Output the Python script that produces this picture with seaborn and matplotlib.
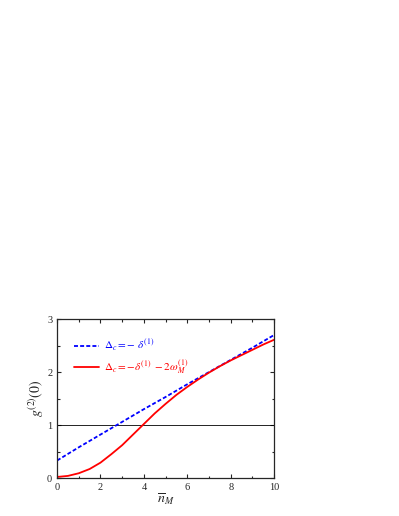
import numpy as np
import pandas as pd
import matplotlib
matplotlib.use("Agg")
import matplotlib.pyplot as plt
import seaborn as sns

# dados
n_blue = [0, 1, 2, 3, 4, 5, 6, 7, 8, 9, 10]
g2_blue = [0.33, 0.58, 0.82, 1.06, 1.30, 1.53, 1.77, 2.00, 2.23, 2.46, 2.70]

n_red = [0, 0.5, 1.0, 1.5, 2.0, 2.5, 3.0, 3.5, 4.0, 4.5, 5.0, 5.5, 6.0, 6.5,
         7.0, 7.5, 8.0, 8.5, 9.0, 9.5, 10.0]
g2_red = [0.02, 0.04, 0.09, 0.17, 0.29, 0.45, 0.62, 0.82, 1.02, 1.22, 1.40,
          1.57, 1.72, 1.86, 1.99, 2.11, 2.22, 2.32, 2.42, 2.52, 2.61]

lab_blue = r"$\Delta_c = -\ \delta^{(1)}$"
lab_red = r"$\Delta_c = -\delta^{(1)}\ -2\omega_M^{(1)}$"

sns.set_style("ticks")
plt.rcParams["font.family"] = ["Liberation Serif", "DejaVu Serif"]
plt.rcParams["mathtext.fontset"] = "stix"

fig = plt.figure(figsize=(3.99, 5.16), dpi=100)
ax = fig.add_axes([0.143, 0.0736, 0.544, 0.308])

df_b = pd.DataFrame({"n": n_blue, "g2": g2_blue})
df_r = pd.DataFrame({"n": n_red, "g2": g2_red})

ax.axhline(1, color="black", lw=0.6)
sns.lineplot(data=df_b, x="n", y="g2", ax=ax, color="blue", lw=1.3,
             linestyle=(0, (2.2, 1.2)), label=lab_blue)
sns.lineplot(data=df_r, x="n", y="g2", ax=ax, color="red", lw=1.3,
             label=lab_red)

ax.set_xlim(0, 10)
ax.set_ylim(0, 3)
ax.set_xticks([0, 2, 4, 6, 8, 10])
ax.set_xticks([1, 3, 5, 7, 9], minor=True)
ax.set_yticks([0, 1, 2, 3])
ax.set_yticks([0.5, 1.5, 2.5], minor=True)
ax.tick_params(which="both", direction="in", top=True, right=True,
               labelsize=7.5, width=0.8)
ax.tick_params(which="major", length=3)
ax.tick_params(which="minor", length=1.8)
for s in ax.spines.values():
    s.set_linewidth(0.9)

ax.set_xlabel(r"$\overline{n}_M$", fontsize=10, labelpad=0)
ax.set_ylabel(r"$g^{(2)}(0)$", fontsize=10, labelpad=1)

ax.legend(loc="upper left", bbox_to_anchor=(0.03, 0.945), frameon=False,
          fontsize=8, labelcolor="linecolor", handlelength=2.3,
          handletextpad=0.4, labelspacing=0.4)

fig.savefig("out.png", dpi=100)
